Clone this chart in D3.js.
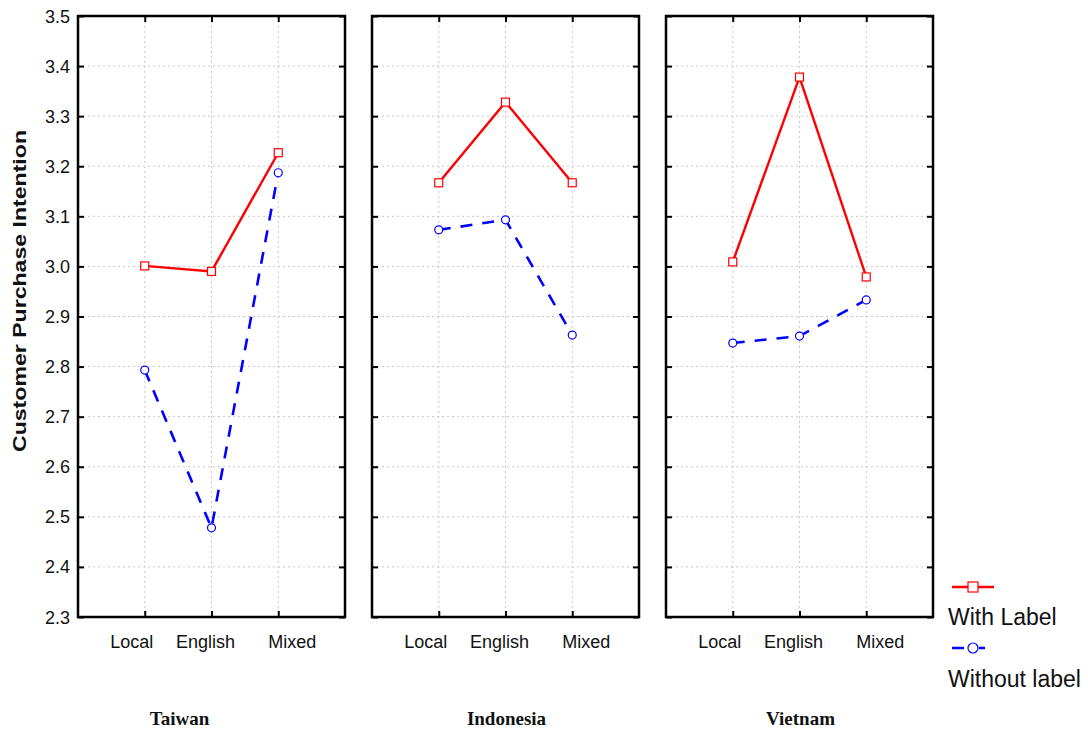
<!DOCTYPE html>
<head>
  <meta charset="utf-8">
  <title>Customer Purchase Intention</title>
  <style>
  body { margin: 0; background: #fff; }
  .tickLabel { font: 18px "Liberation Sans", Arial, sans-serif; fill: #111; }
  .country { font: bold 19px "Liberation Serif", "Times New Roman", serif; fill: #111; }
  .axisTitle { font: bold 18px "Liberation Sans", Arial, sans-serif; fill: #111; }
  .grid line { stroke: #c8c8c8; stroke-dasharray: 2,3; }
  .legendText { font: 23px "Liberation Sans", Arial, sans-serif; fill: #111; }
  </style>
</head>
<body>
<script src="https://cdn.jsdelivr.net/npm/d3@7"></script>
<script>
  const countries = ["Taiwan", "Indonesia", "Vietnam"];
  const categories = ["Local", "English", "Mixed"];
  const yTicks = [2.3, 2.4, 2.5, 2.6, 2.7, 2.8, 2.9, 3.0, 3.1, 3.2, 3.3, 3.4, 3.5];
  const seriesNames = ["With Label", "Without label"];

  // values per country, in category order
  const withLabel = [
    [3.001, 2.990, 3.227],
    [3.167, 3.328, 3.167],
    [3.009, 3.378, 2.979]
  ];
  const withoutLabel = [
    [2.793, 2.478, 3.187],
    [3.073, 3.093, 2.863],
    [2.847, 2.861, 2.933]
  ];

  const width = 1088, height = 730;
  const panelLeft = [78, 372, 666];
  const panelW = 267;
  const yTop = 16, yBottom = 617;
  const labelShift = [-13, -6, 14];
  const countryShift = [-32, 1, 1];

  const svg = d3.select("body").append("svg")
    .attr("width", width).attr("height", height);

  const y = d3.scaleLinear().domain([2.3, 3.5]).range([yBottom, yTop]);

  countries.forEach((country, ci) => {
    const x = d3.scalePoint().domain(["", ...categories, " "])
      .range([panelLeft[ci], panelLeft[ci] + panelW]);
    const g = svg.append("g");

    // grid
    const grid = g.append("g").attr("class", "grid");
    grid.selectAll("line.v").data(categories).enter().append("line")
      .attr("class", "v")
      .attr("x1", d => x(d)).attr("x2", d => x(d))
      .attr("y1", yTop).attr("y2", yBottom);
    grid.selectAll("line.h").data(yTicks.slice(1, -1)).enter().append("line")
      .attr("class", "h")
      .attr("x1", panelLeft[ci]).attr("x2", panelLeft[ci] + panelW)
      .attr("y1", d => y(d)).attr("y2", d => y(d));

    // inward ticks on all four sides
    const tickStyle = a => {
      a.select(".domain").remove();
      a.selectAll("line").attr("stroke", "#000").attr("stroke-width", 2);
    };
    g.append("g").attr("transform", `translate(${panelLeft[ci]},0)`)
      .call(d3.axisRight(y).tickValues(yTicks).tickSize(6).tickFormat(""))
      .call(tickStyle);
    g.append("g").attr("transform", `translate(${panelLeft[ci] + panelW},0)`)
      .call(d3.axisLeft(y).tickValues(yTicks).tickSize(6).tickFormat(""))
      .call(tickStyle);
    g.append("g").attr("transform", `translate(0,${yBottom})`)
      .call(d3.axisTop(x).tickValues(categories).tickSize(6).tickFormat(""))
      .call(tickStyle);
    g.append("g").attr("transform", `translate(0,${yTop})`)
      .call(d3.axisBottom(x).tickValues(categories).tickSize(6).tickFormat(""))
      .call(tickStyle);

    // frame
    g.append("rect")
      .attr("x", panelLeft[ci]).attr("y", yTop)
      .attr("width", panelW).attr("height", yBottom - yTop)
      .attr("fill", "none").attr("stroke", "#000").attr("stroke-width", 2.5);

    // category labels
    g.selectAll("text.cat").data(categories).enter().append("text")
      .attr("class", "tickLabel cat")
      .attr("x", (d, i) => x(d) + labelShift[i])
      .attr("y", 648).attr("text-anchor", "middle").text(d => d);

    g.append("text").attr("class", "country")
      .attr("x", panelLeft[ci] + panelW / 2 + countryShift[ci]).attr("y", 725)
      .attr("text-anchor", "middle").text(country);

    const line = d3.line().x((d, i) => x(categories[i])).y(d => y(d));

    // without label (blue dashed)
    g.append("path").attr("d", line(withoutLabel[ci]))
      .attr("fill", "none").attr("stroke", "#0000ff")
      .attr("stroke-width", 2.6).attr("stroke-dasharray", "12,10");
    g.selectAll("circle").data(withoutLabel[ci]).enter().append("circle")
      .attr("cx", (d, i) => x(categories[i])).attr("cy", d => y(d))
      .attr("r", 4).attr("fill", "#fff").attr("stroke", "#0000ff").attr("stroke-width", 1.2);

    // with label (red solid)
    g.append("path").attr("d", line(withLabel[ci]))
      .attr("fill", "none").attr("stroke", "#ff0000").attr("stroke-width", 2.4);
    g.selectAll("rect.m").data(withLabel[ci]).enter().append("rect")
      .attr("class", "m")
      .attr("x", (d, i) => x(categories[i]) - 4).attr("y", d => y(d) - 4)
      .attr("width", 8).attr("height", 8)
      .attr("fill", "#fff").attr("stroke", "#ff0000").attr("stroke-width", 1.2);
  });

  // y axis labels (first panel only)
  svg.append("g").selectAll("text").data(yTicks).enter().append("text")
    .attr("class", "tickLabel")
    .attr("x", 70).attr("y", d => y(d) + 6.5)
    .attr("text-anchor", "end").text(d => d.toFixed(1));

  svg.append("text").attr("class", "axisTitle")
    .attr("transform", `translate(26,291) rotate(-90)`)
    .attr("text-anchor", "middle")
    .attr("textLength", 322).attr("lengthAdjust", "spacingAndGlyphs")
    .text("Customer Purchase Intention");

  // legend
  const legend = svg.append("g");
  const legendY = [587, 648];
  legend.append("line").attr("x1", 952).attr("x2", 994)
    .attr("y1", legendY[0]).attr("y2", legendY[0])
    .attr("stroke", "#ff0000").attr("stroke-width", 2.4);
  legend.append("rect").attr("x", 968).attr("y", legendY[0] - 5)
    .attr("width", 10).attr("height", 10)
    .attr("fill", "#fff").attr("stroke", "#ff0000").attr("stroke-width", 1.2);
  legend.append("line").attr("x1", 952).attr("x2", 985)
    .attr("y1", legendY[1]).attr("y2", legendY[1])
    .attr("stroke", "#0000ff").attr("stroke-width", 2.6).attr("stroke-dasharray", "12,15");
  legend.append("circle").attr("cx", 973).attr("cy", legendY[1]).attr("r", 5)
    .attr("fill", "#fff").attr("stroke", "#0000ff").attr("stroke-width", 1.2);
  legend.selectAll("text").data(seriesNames).enter().append("text")
    .attr("class", "legendText")
    .attr("x", 948).attr("y", (d, i) => [625, 687][i]).text(d => d);
</script>
</body>
